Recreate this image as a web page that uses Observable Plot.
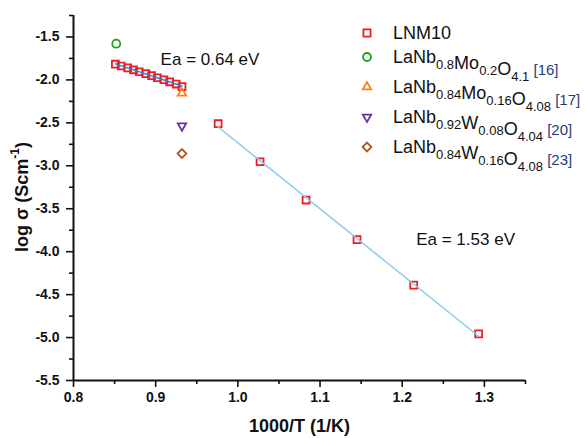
<!DOCTYPE html>
<html>
<head>
<meta charset="utf-8">
<script src="https://cdn.jsdelivr.net/npm/d3@7"></script>
<script src="https://cdn.jsdelivr.net/npm/@observablehq/plot@0.6"></script>
<style>
  body { margin: 0; background: #fff; }
  #chart svg { display: block; }
</style>
</head>
<body>
<div id="chart"></div>
<script>
// ---- data ----
const highT_x = [0.851, 0.858, 0.866, 0.873, 0.880, 0.888, 0.895, 0.902, 0.910, 0.917, 0.925, 0.932];
const highT_y = [-1.817, -1.838, -1.860, -1.882, -1.905, -1.927, -1.950, -1.975, -1.998, -2.022, -2.048, -2.078];
const lowT_x = [0.976, 1.027, 1.083, 1.145, 1.214, 1.293];
const lowT_y = [-2.51, -2.953, -3.399, -3.86, -4.39, -4.957];
const lit_names = ["Mo0.2", "Mo0.16", "W0.08", "W0.16"];
const lit_x = [0.852, 0.932, 0.932, 0.932];
const lit_y = [-1.578, -2.155, -2.535, -2.857];
const lit_symbols = ["circle", "triangle2", "triangle2", "diamond2"];
const lit_rotate = [0, 0, 180, 0];
const lit_colors = ["#1f9e1f", "#ff7f0e", "#6b2fa0", "#b3561e"];
const xTicks = [0.8, 0.9, 1.0, 1.1, 1.2, 1.3];
const xMinor = [0.85, 0.95, 1.05, 1.15, 1.25, 1.35];
const yTicks = [-5.5, -5.0, -4.5, -4.0, -3.5, -3.0, -2.5, -2.0, -1.5];
const yMinor = [-5.25, -4.75, -4.25, -3.75, -3.25, -2.75, -2.25, -1.75, -1.25];
const annotations = [
  {x: 0.906, y: -1.767, text: "Ea = 0.64 eV"},
  {x: 1.217, y: -3.86, text: "Ea = 1.53 eV"}
];
const legendItems = [
  {symbol: "square", rotate: 0, color: "#ee1c24", parts: [["LNM10", ""]], ref: ""},
  {symbol: "circle", rotate: 0, color: "#1f9e1f", parts: [["LaNb", "0.8"], ["Mo", "0.2"], ["O", "4.1"]], ref: "[16]"},
  {symbol: "triangle2", rotate: 0, color: "#ff7f0e", parts: [["LaNb", "0.84"], ["Mo", "0.16"], ["O", "4.08"]], ref: "[17]"},
  {symbol: "triangle2", rotate: 180, color: "#6b2fa0", parts: [["LaNb", "0.92"], ["W", "0.08"], ["O", "4.04"]], ref: "[20]"},
  {symbol: "diamond2", rotate: 0, color: "#b3561e", parts: [["LaNb", "0.84"], ["W", "0.16"], ["O", "4.08"]], ref: "[23]"}
];

const highT = highT_x.map((x, i) => ({x, y: highT_y[i]}));
const lowT = lowT_x.map((x, i) => ({x, y: lowT_y[i]}));
const lit = lit_names.map((n, i) => ({name: n, x: lit_x[i], y: lit_y[i], symbol: lit_symbols[i], rotate: lit_rotate[i], color: lit_colors[i]}));

const FONT = "'Liberation Sans', Arial, Helvetica, sans-serif";
const fmt = d => d.toFixed(1);

const chart = Plot.plot({
  width: 585,
  height: 438,
  marginLeft: 73,
  marginRight: 60,
  marginTop: 15,
  marginBottom: 58,
  style: {fontFamily: FONT, background: "#fff", color: "#111"},
  x: {domain: [0.8, 1.35]},
  y: {domain: [-5.5, -1.25]},
  marks: [
    Plot.axisX(xMinor, {tickSize: 4, strokeWidth: 1.6, text: null, label: null}),
    Plot.axisX(xTicks, {tickSize: 7, strokeWidth: 1.6, tickPadding: 5, tickFormat: fmt, fontSize: 14, fontWeight: "bold", label: null}),
    Plot.axisY(yMinor, {tickSize: 4, strokeWidth: 1.6, text: null, label: null}),
    Plot.axisY(yTicks, {tickSize: 7, strokeWidth: 1.6, tickPadding: 7, tickFormat: fmt, fontSize: 14, fontWeight: "bold", label: null}),
    Plot.ruleX([0.8], {stroke: "#111", strokeWidth: 2}),
    Plot.ruleY([-5.5], {stroke: "#111", strokeWidth: 2}),
    Plot.dot(highT, {x: "x", y: "y", symbol: "square", r: 3.9, stroke: "#ee1c24", strokeWidth: 1.8, fill: "none"}),
    Plot.dot(lowT, {x: "x", y: "y", symbol: "square", r: 3.9, stroke: "#ee1c24", strokeWidth: 1.8, fill: "white"}),
    Plot.linearRegressionY(highT, {x: "x", y: "y", stroke: "#2b86c9", strokeWidth: 1.5, ci: 0}),
    Plot.linearRegressionY(lowT, {x: "x", y: "y", stroke: "#8ccbea", strokeWidth: 1.5, ci: 0}),
    Plot.dot(lit, {x: "x", y: "y", symbol: "symbol", rotate: "rotate", r: 4, stroke: "color", strokeWidth: 1.8, fill: "none"}),
    Plot.text(annotations, {x: "x", y: "y", text: "text", textAnchor: "start", fontSize: 17, fill: "#111"}),
    Plot.text(["1000/T (1/K)"], {frameAnchor: "bottom", dy: 51, fontSize: 18, fontWeight: "bold", fill: "#111"})
  ]
});

const svg = d3.select(chart);

// y-axis title with superscript
const yt = svg.append("text")
  .attr("transform", "translate(22,197) rotate(-90)")
  .attr("text-anchor", "middle")
  .attr("dominant-baseline", "central")
  .attr("font-family", FONT)
  .attr("font-size", 18)
  .attr("font-weight", "bold")
  .attr("fill", "#111");
yt.append("tspan").text("log σ (Scm");
yt.append("tspan").attr("font-size", 12).attr("dy", -7).text("-1");
yt.append("tspan").attr("dy", 7).text(")");

// legend
const rowsY = [33, 57, 87, 117, 147];
const symMap = {square: d3.symbolSquare, circle: d3.symbolCircle, triangle2: d3.symbolTriangle2, diamond2: d3.symbolDiamond2};
const legend = svg.append("g").attr("font-family", FONT).attr("text-anchor", "start");
legendItems.forEach((item, i) => {
  const y = rowsY[i];
  legend.append("path")
    .attr("d", d3.symbol(symMap[item.symbol], Math.PI * 16)())
    .attr("transform", `translate(367,${y}) rotate(${item.rotate})`)
    .attr("fill", "none")
    .attr("stroke", item.color)
    .attr("stroke-width", 1.8);
  const t = legend.append("text")
    .attr("x", 393).attr("y", y + 6)
    .attr("text-anchor", "start")
    .attr("font-size", 18)
    .attr("fill", "#111");
  item.parts.forEach(([main, sub]) => {
    t.append("tspan").attr("font-size", 18).text(main);
    if (sub) {
      t.append("tspan").attr("font-size", 13).attr("dy", 6).text(sub);
      t.append("tspan").attr("font-size", 18).attr("dy", -6).text("");
    }
  });
  if (item.ref) {
    t.append("tspan").attr("font-size", 15).attr("dy", -6).attr("fill", "#1f3c7a").text(" " + item.ref);
  }
});

document.getElementById("chart").appendChild(chart);
</script>
</body>
</html>
